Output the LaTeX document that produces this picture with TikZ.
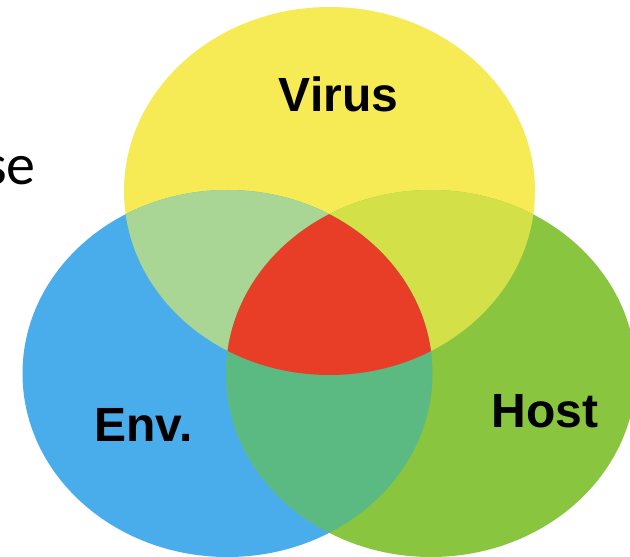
\documentclass[tikz,border=0pt]{standalone}
\usepackage{fontspec}
\setmainfont{Liberation Sans}
\newfontfamily\calfont{Carlito}
\definecolor{cyel}{HTML}{F7EB55}
\definecolor{cblu}{HTML}{49ADEC}
\definecolor{cgrn}{HTML}{8AC53F}
\definecolor{cyb}{HTML}{A9D595}
\definecolor{cyg}{HTML}{D4E048}
\definecolor{cbg}{HTML}{5BBA82}
\definecolor{cred}{HTML}{E83E28}
\begin{document}
\begin{tikzpicture}[x=1bp,y=-1bp,
  lbl/.style={font=\bfseries\fontsize{48bp}{56bp}\selectfont, inner sep=0pt, anchor=base},
  setlbl/.style={font=\calfont\fontsize{58bp}{66bp}\selectfont, inner sep=0pt, anchor=base east}]
\useasboundingbox (0,0) rectangle (630,557);
\clip (0,0) rectangle (630,557);
\def\Yel{(329.5,191) ellipse [x radius=205.5bp, y radius=184bp]}
\def\Blu{(227.5,373.5) ellipse [x radius=205bp, y radius=183.5bp]}
\def\Grn{(431,373.5) ellipse [x radius=205bp, y radius=183.5bp]}
\fill[cyel] \Yel;
\fill[cblu] \Blu;
\fill[cgrn] \Grn;
\begin{scope}
  \clip \Yel;
  \fill[cyb] \Blu;
  \fill[cyg] \Grn;
\end{scope}
\begin{scope}
  \clip \Blu;
  \fill[cbg] \Grn;
\end{scope}
\begin{scope}
  \clip \Yel;
  \clip \Blu;
  \fill[cred] \Grn;
\end{scope}
\node[lbl] (virus) at (338.5,112) {Virus};
\node[lbl] (env) at (143.5,441.7) {Env.};
\node[lbl] (host) at (545,427.3) {Host};
\node[setlbl] (se) at (36,185) {se};
\end{tikzpicture}
\end{document}
